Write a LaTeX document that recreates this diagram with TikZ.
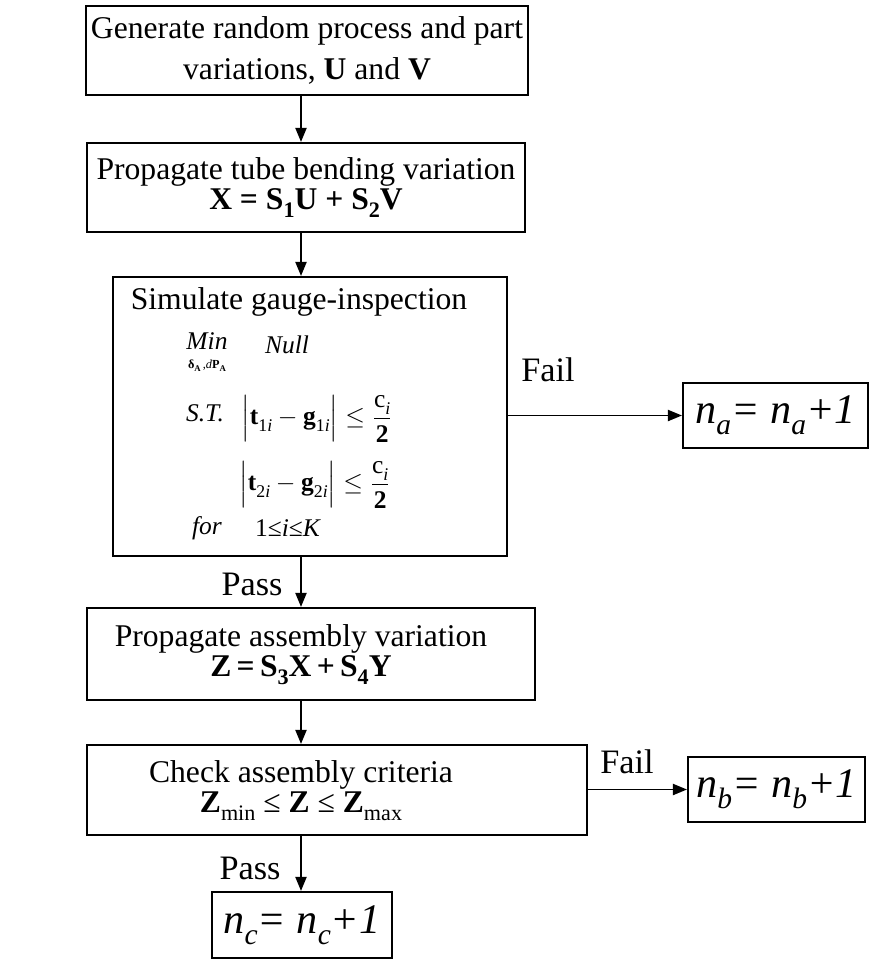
\documentclass[tikz,border=0pt]{standalone}
\usepackage{amsmath}
\usepackage{fontspec}
\setmainfont{Liberation Serif}
\usetikzlibrary{arrows.meta}
\newcommand\subs[1]{\raisebox{-0.55ex}{\ensuremath{\scriptstyle\text{#1}}}}

\begin{document}
\begin{tikzpicture}[x=0.02cm,y=-0.02cm,line width=1.1pt,
        >={Triangle[length=0.28cm,width=0.22cm]},
        box/.style={draw,line width=1.2pt,inner sep=0pt,align=center,
                    font=\fontsize{18}{21.6}\selectfont},
        txt/.style={align=center,inner sep=0pt,font=\fontsize{18}{21.6}\selectfont},
        count/.style={draw,line width=1.2pt,inner sep=0pt,minimum height=1.3cm,
                      font=\fontsize{24}{28}\selectfont\itshape},
        lbl/.style={inner sep=0pt,font=\fontsize{19.5}{22}\selectfont},
        opt/.style={inner sep=0pt,font=\fontsize{14.5}{16}\selectfont}]
        \useasboundingbox (0,0) rectangle (870,960);
        \coordinate (spine) at (301,0);
        % main chain
        \node[box,minimum width=8.84cm,minimum height=1.78cm] (gen) at (307,50.5)
            {Generate random process and part\\[2.2pt]variations, \textbf{U} and \textbf{V}};
        \node[box,minimum width=8.76cm,minimum height=1.78cm] (bend) at (306,187.5)
            {Propagate tube bending variation\\[-5pt]\textbf{X = S\subs{1}U + S\subs{2}V}};
        \node[box,minimum width=7.88cm,minimum height=5.58cm] (sim) at (310,416.5) {};
        \node[box,minimum width=8.96cm,minimum height=1.84cm] (asm) at (311,654) {};
        \node[box,minimum width=10cm,minimum height=1.8cm] (chk) at (337,790) {};
        \node[txt] (simtxt) at (299,302) {Simulate gauge-inspection};
        \node[txt] (asmtxt) at (301,655)
            {Propagate assembly variation\\[-4.5pt]\textbf{Z\,=\,S\subs{3}X\,+\,S\subs{4}Y}};
        \node[txt] (chktxt) at (301,791)
            {Check assembly criteria\\[-4.6pt]\textbf{Z}\subs{min} ≤ \textbf{Z} ≤ \textbf{Z}\subs{max}};
        % gauge problem
        \node[opt,align=center] (minop) at (207,352)
            {\textit{Min}\\[-5pt]{\fontsize{7}{8}\selectfont\textbf{δ}\subs{\textbf{A}}\,,\textit{d}\textbf{P}\subs{\textbf{A}}}};
        \node[opt] (null) at (287,345) {\textit{Null}};
        \node[opt] (st) at (205,413) {\textit{S.T.}};
        \node[opt] (cona) at (317,419)
            {$\Bigl|\textbf{t}\subs{1\textit{i}}-\textbf{g}\subs{1\textit{i}}\Bigr|\le\dfrac{\text{c}\subs{\textit{i}}}{\textbf{2}}$};
        \node[opt] (conb) at (315,485)
            {$\Bigl|\textbf{t}\subs{2\textit{i}}-\textbf{g}\subs{2\textit{i}}\Bigr|\le\dfrac{\text{c}\subs{\textit{i}}}{\textbf{2}}$};
        \node[opt] (for) at (207,528) {\textit{for}};
        \node[opt] (range) at (288,528) {1≤\textit{i}≤\textit{K}};
        % counters
        \node[count,minimum width=3.7cm] (na) at (775.5,415.5) {n\subs{a}= n\subs{a}+1};
        \node[count,minimum width=3.54cm] (nb) at (776.5,789.5) {n\subs{b}= n\subs{b}+1};
        \node[count,minimum width=3.6cm,minimum height=1.32cm] (nc) at (302,925) {n\subs{c}= n\subs{c}+1};
        % branch labels
        \node[lbl] (faila) at (548,370) {Fail};
        \node[lbl] (failb) at (627,762) {Fail};
        \node[lbl] (passa) at (252,584) {Pass};
        \node[lbl] (passb) at (250,868) {Pass};
        \draw[->] (gen.south -| spine) -- (bend.north -| spine);
        \draw[->] (bend.south -| spine) -- (sim.north -| spine);
        \draw[->] (sim.south -| spine) -- (asm.north -| spine);
        \draw[->] (asm.south -| spine) -- (chk.north -| spine);
        \draw[->] (chk.south -| spine) -- (nc.north -| spine);
        \draw[->] (sim.east |- na.west) -- (na.west);
        \draw[->] (chk.east |- nb.west) -- (nb.west);
\end{tikzpicture}
\end{document}
